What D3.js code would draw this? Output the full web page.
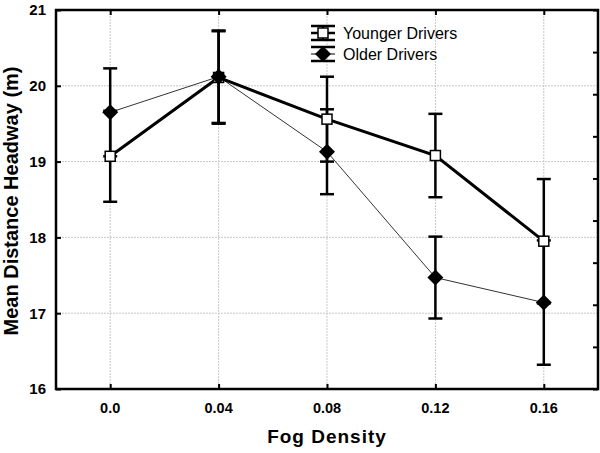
<!DOCTYPE html>
<html><head><meta charset="utf-8">
<script src="https://cdn.jsdelivr.net/npm/d3@7"></script>
<style>body{margin:0;background:#fff}svg{display:block}</style>
</head><body><svg id="c" width="600" height="453"></svg>
<script>
const categories = ["0.0", "0.04", "0.08", "0.12", "0.16"];
const youngerMean = [19.07, 20.11, 19.56, 19.08, 17.95];
const youngerErr  = [0.60, 0.61, 0.56, 0.55, 0.82];
const olderMean   = [19.65, 20.12, 19.13, 17.47, 17.14];
const olderErr    = [0.58, 0.61, 0.56, 0.54, 0.82];
const yTicks = [16, 17, 18, 19, 20, 21];
const seriesNames = ["Younger Drivers", "Older Drivers"];

const svg = d3.select("#c");
const L = 56, R = 598, T = 10, B = 389;
const x = d3.scalePoint().domain(categories).range([L, R]).padding(0.5);
const y = d3.scaleLinear().domain([16, 21]).range([B, T]);
const yRight = d3.scaleLinear().domain([0, 9]).range([B, T]);
const font = "'Liberation Sans', Arial, sans-serif";

// grid
const g = svg.append("g");
g.selectAll("line.hg").data(yTicks.slice(1, -1)).join("line")
  .attr("x1", L).attr("x2", R).attr("y1", d => y(d)).attr("y2", d => y(d))
  .attr("stroke", "#c8c8c8").attr("stroke-width", 1).attr("stroke-dasharray", "2,1");
g.selectAll("line.vg").data(categories).join("line")
  .attr("y1", T).attr("y2", B).attr("x1", d => x(d)).attr("x2", d => x(d))
  .attr("stroke", "#c8c8c8").attr("stroke-width", 1).attr("stroke-dasharray", "2,1");

// axes (inward ticks)
svg.append("g").attr("transform", `translate(${L},0)`)
  .call(d3.axisRight(y).tickValues(yTicks).tickSize(5).tickFormat(""))
  .call(a => a.select(".domain").remove()).selectAll("line").attr("stroke-width", 2);
svg.append("g").attr("transform", `translate(${R},0)`)
  .call(d3.axisLeft(yRight).ticks(9).tickSize(5).tickFormat(""))
  .call(a => a.select(".domain").remove()).selectAll("line").attr("stroke-width", 2);
svg.append("g").attr("transform", `translate(0,${B})`)
  .call(d3.axisTop(x).tickSize(5).tickFormat(""))
  .call(a => a.select(".domain").remove()).selectAll("line").attr("stroke-width", 2);
svg.append("g").attr("transform", `translate(0,${T})`)
  .call(d3.axisBottom(x).tickSize(5).tickFormat(""))
  .call(a => a.select(".domain").remove()).selectAll("line").attr("stroke-width", 2);

// tick labels
svg.append("g").selectAll("text").data(yTicks).join("text")
  .attr("x", L - 10).attr("y", d => y(d)).attr("dy", "0.36em")
  .attr("text-anchor", "end").attr("font-family", font).attr("font-weight", "bold")
  .attr("font-size", 15).text(d => d);
svg.append("g").selectAll("text").data(categories).join("text")
  .attr("x", d => x(d)).attr("y", 413)
  .attr("text-anchor", "middle").attr("font-family", font).attr("font-weight", "bold")
  .attr("font-size", 14.5).text(d => d);

// titles
svg.append("text").attr("x", (L + R) / 2).attr("y", 443).attr("text-anchor", "middle")
  .attr("font-family", font).attr("font-weight", "bold").attr("font-size", 19)
  .attr("letter-spacing", 1).text("Fog Density");
svg.append("text").attr("transform", `translate(18,201) rotate(-90)`)
  .attr("text-anchor", "middle").attr("font-family", font).attr("font-weight", "bold")
  .attr("font-size", 20).text("Mean Distance Headway (m)");

// lines
const line = d3.line().x((d, i) => x(categories[i])).y(d => y(d));
svg.append("path").datum(olderMean).attr("d", line).attr("fill", "none")
  .attr("stroke", "#333").attr("stroke-width", 1);
svg.append("path").datum(youngerMean).attr("d", line).attr("fill", "none")
  .attr("stroke", "#000").attr("stroke-width", 3);

// error bars
function errBars(means, errs) {
  const eg = svg.append("g").attr("stroke", "#000").attr("stroke-width", 2.5);
  means.forEach((m, i) => {
    const cx = x(categories[i]);
    eg.append("line").attr("x1", cx).attr("x2", cx).attr("y1", y(m - errs[i])).attr("y2", y(m + errs[i]));
    [m - errs[i], m + errs[i]].forEach(v => {
      eg.append("line").attr("x1", cx - 7).attr("x2", cx + 7).attr("y1", y(v)).attr("y2", y(v));
    });
  });
}
errBars(olderMean, olderErr);
errBars(youngerMean, youngerErr);

// markers
const diamondType = { draw(ctx, size) { const r = Math.sqrt(size) / 2;
  ctx.moveTo(0, -r); ctx.lineTo(r, 0); ctx.lineTo(0, r); ctx.lineTo(-r, 0); ctx.closePath(); } };
const diamond = d3.symbol().type(diamondType).size(256);
svg.append("g").selectAll("rect").data(youngerMean).join("rect")
  .attr("x", (d, i) => x(categories[i]) - 5).attr("y", d => y(d) - 5)
  .attr("width", 10).attr("height", 10).attr("fill", "#fff").attr("stroke", "#000").attr("stroke-width", 1.5);
svg.append("g").selectAll("path").data(olderMean).join("path")
  .attr("d", diamond)
  .attr("transform", (d, i) => `translate(${x(categories[i])},${y(d)})`)
  .attr("fill", "#000");

// frame
svg.append("rect").attr("x", L).attr("y", T).attr("width", R - L).attr("height", B - T)
  .attr("fill", "none").attr("stroke", "#000").attr("stroke-width", 2.5);

// legend
const lg = svg.append("g");
const legY = [33, 54];
const lx = 323;
seriesNames.forEach((name, i) => {
  const cy = legY[i];
  const row = lg.append("g");
  row.append("line").attr("x1", lx).attr("x2", lx).attr("y1", cy - 7).attr("y2", cy + 7)
    .attr("stroke", "#000").attr("stroke-width", 2);
  [-7, 7].forEach(o => row.append("line").attr("x1", lx - 12).attr("x2", lx + 12)
    .attr("y1", cy + o).attr("y2", cy + o).attr("stroke", "#000").attr("stroke-width", 2.5));
  row.append("line").attr("x1", lx - 12).attr("x2", lx + 12).attr("y1", cy).attr("y2", cy)
    .attr("stroke", "#000").attr("stroke-width", i === 0 ? 2.5 : 1);
  if (i === 0) {
    row.append("rect").attr("x", lx - 5).attr("y", cy - 5).attr("width", 10).attr("height", 10)
      .attr("fill", "#fff").attr("stroke", "#000").attr("stroke-width", 1.5);
  } else {
    row.append("path").attr("d", diamond).attr("transform", `translate(${lx},${cy})`).attr("fill", "#000");
  }
  row.append("text").attr("x", 343).attr("y", cy).attr("dy", "0.36em")
    .attr("font-family", font).attr("font-size", 16).text(name);
});
</script></body></html>
